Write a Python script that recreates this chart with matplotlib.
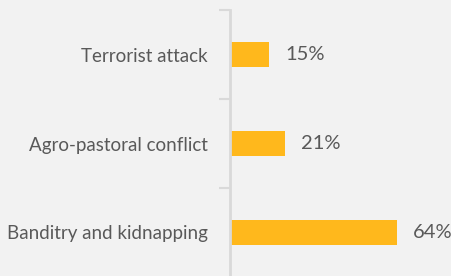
import matplotlib.pyplot as plt

categories = ['Banditry and kidnapping', 'Agro-pastoral conflict', 'Terrorist attack']
values = [64, 21, 15]

bg = '#f2f2f2'
bar_color = '#ffb81c'
text_color = '#595959'

plt.rcParams['font.family'] = ['Lato', 'DejaVu Sans']

fig = plt.figure(figsize=(4.52, 2.76), dpi=100, facecolor=bg)
# axes placed so the spine sits at x=230px, bands 89px tall
ax = fig.add_axes([230 / 452, -1 / 276, 183 / 452, 267 / 276], facecolor=bg)

ypos = range(len(categories))
ax.barh(ypos, values, height=0.28, color=bar_color)

for y, v in zip(ypos, values):
    ax.text(v + 6, y, f'{v}%', va='center', ha='left', fontsize=14.5,
            color=text_color, clip_on=False)

ax.set_xlim(0, 70)
ax.set_ylim(-0.5, 2.5)
ax.set_yticks(list(ypos))
ax.set_yticklabels(categories, fontsize=13.5, color=text_color)
ax.set_yticks([0.5, 1.5, 2.5], minor=True)
ax.tick_params(axis='y', which='major', length=0, pad=16)
ax.tick_params(axis='y', which='minor', length=8, width=1.5, color='#d9d9d9')
ax.set_xticks([])

for s in ['top', 'right', 'bottom']:
    ax.spines[s].set_visible(False)
ax.spines['left'].set_color('#d9d9d9')
ax.spines['left'].set_linewidth(2)

fig.savefig('out.png', dpi=100, facecolor=bg)
